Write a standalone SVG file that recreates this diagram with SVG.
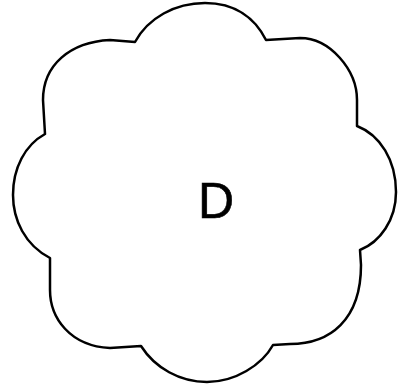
<svg xmlns="http://www.w3.org/2000/svg" width="409" height="387" viewBox="0 0 409 387">
<style>
.cloud{fill:#ffffff;stroke:#000000;stroke-width:2.5;stroke-linejoin:round}
.lbl{font-family:"Liberation Sans",Arial,sans-serif;font-size:50px;fill:#000000;stroke:#000000;stroke-width:0.6;text-anchor:middle}
</style>
<rect width="409" height="387" fill="#ffffff"/>
<g id="node-D">
<path class="cloud" d="M135,42 C148,18 175,3 205,3 C235,3 255,18 266,40 L300,38 C330,38 357,70 357,100 L357,126 C380,135 396,160 396,192 C396,220 380,242 360,250 L361,265 C361,320 330,344 290,344 L273,345 C262,365 235,382 207,382 C180,382 155,368 141,346 L110,348 C70,346 50,318 50,290 L50,258 C25,245 13,220 13,195 C13,168 25,145 45,134 L43,100 C43,65 70,42 110,40 Z"/>
<text class="lbl" x="216" y="218">D</text>
</g>
<g id="connectors"></g>
</svg>
